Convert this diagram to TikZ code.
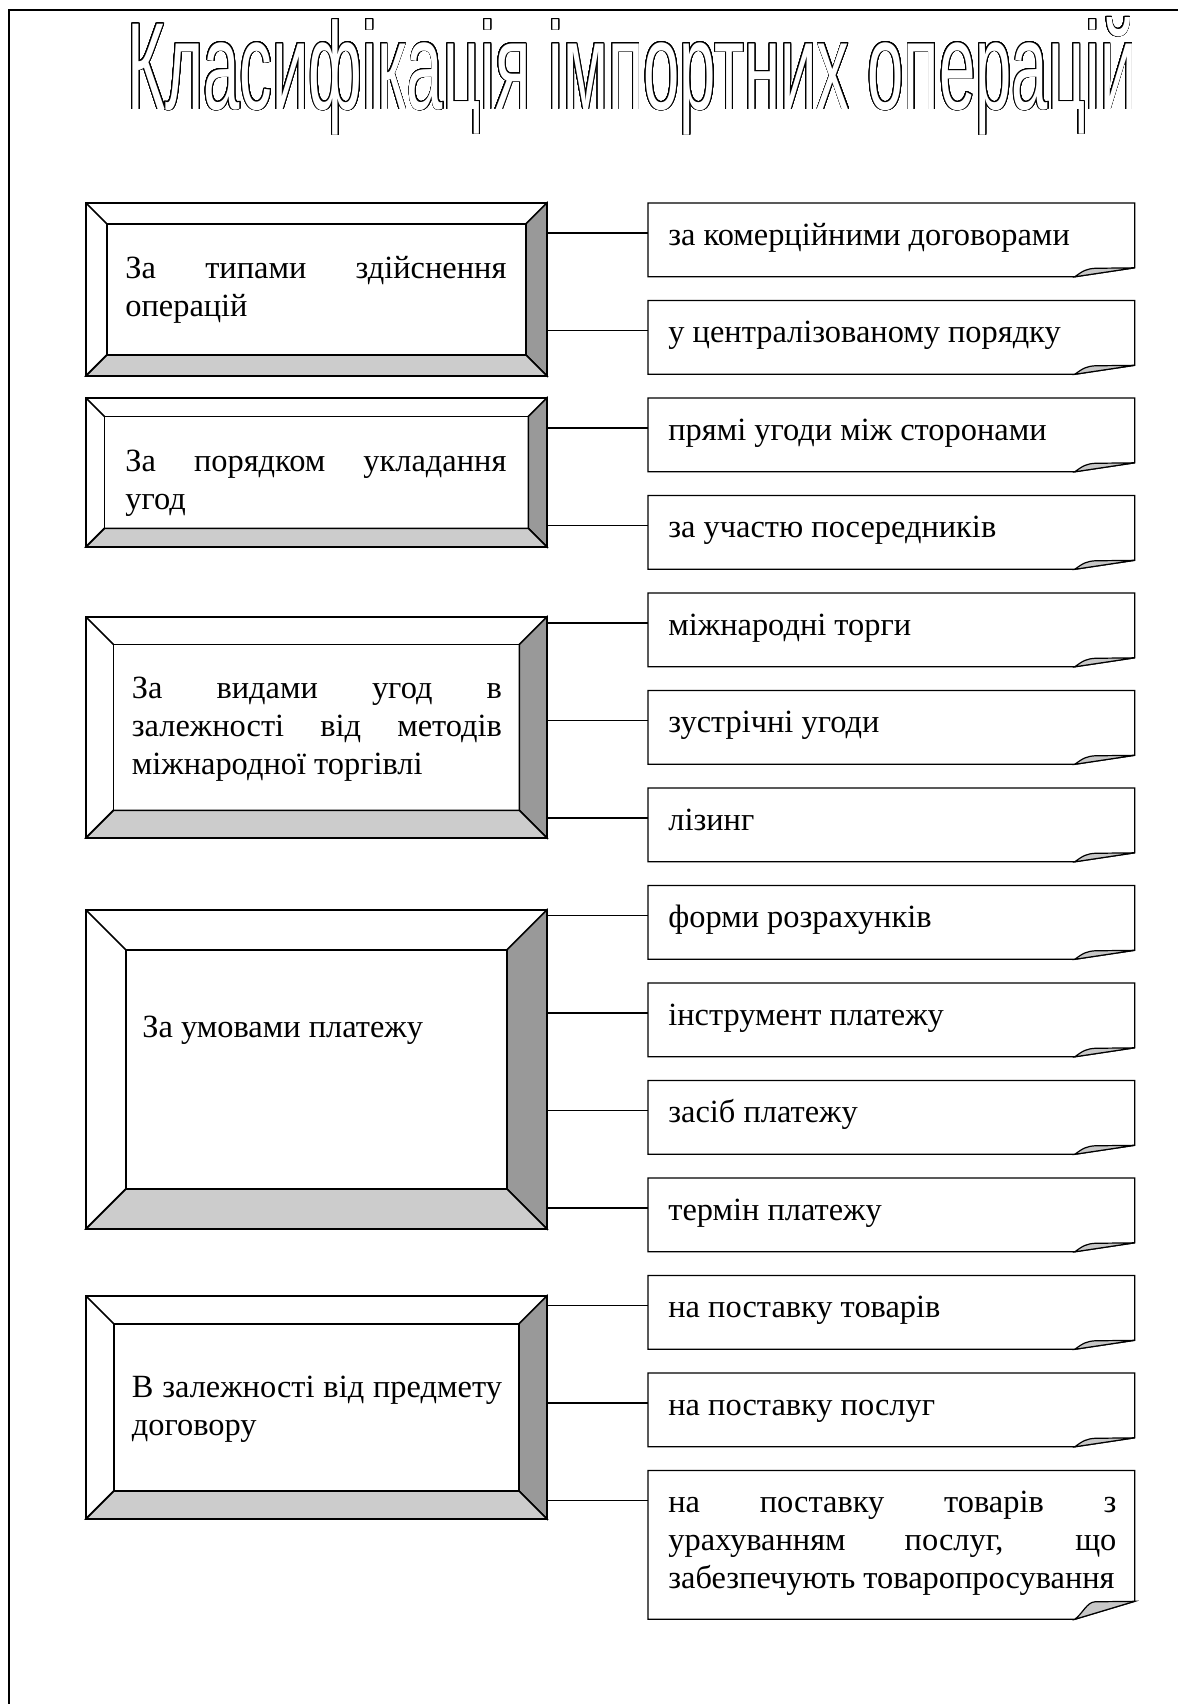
\documentclass[tikz,border=0pt]{standalone}
\usepackage{fontspec}
\setmainfont{Liberation Serif}
\newfontfamily\titlefont{Liberation Sans}
\usepackage{graphicx}
\usepackage{contour}
\contourlength{0.45pt}
\contournumber{32}
\usetikzlibrary{calc}
\tolerance=10000
\hyphenpenalty=10000

\DeclareRobustCommand{\titletext}{\resizebox{504.5pt}{\height}{Класифікація імпортних операцій}}

\tikzset{
  frame/.style={draw=none, minimum width=230pt, anchor=north west, inner sep=0pt},
  leaf/.style={draw=none, minimum width=243pt, minimum height=36.5pt, anchor=north west, inner sep=0pt},
  boxtext/.style={anchor=base west, inner sep=0pt, align=justify, font=\fontsize{16.2}{19}\selectfont},
  leaftext/.style={anchor=base west, inner sep=0pt, font=\fontsize{16.2}{19}\selectfont},
  wire/.style={line width=0.8pt},
  thinwire/.style={line width=0.6pt},
}

% bevelled frame round a node: #1 node, #2 bevel width
\newcommand{\bevelframe}[2]{%
  \coordinate (#1a) at ($(#1.north west)+(#2,#2)$);
  \coordinate (#1b) at ($(#1.north east)+(-#2,#2)$);
  \coordinate (#1c) at ($(#1.south east)+(-#2,-#2)$);
  \coordinate (#1d) at ($(#1.south west)+(#2,-#2)$);
  \filldraw[wire, fill=black!40] (#1.north east) -- (#1.south east) -- (#1c) -- (#1b) -- cycle;
  \filldraw[wire, fill=black!20] (#1.south west) -- (#1.south east) -- (#1c) -- (#1d) -- cycle;
  \draw[wire] (#1.north west) rectangle (#1.south east);
  \draw[wire] (#1a) rectangle (#1c);
  \draw[wire] (#1.north west) -- (#1a) (#1.south west) -- (#1d);
}

% sheet with a folded corner: #1 node, #2 height of the fold
\newcommand{\foldsheet}[2]{%
  \draw[thinwire] (#1.north west) -- (#1.north east) -- ($(#1.south east)+(0,-#2)$)
    -- ($(#1.south east)+(-60,0)$) -- (#1.south west) -- cycle;
  \filldraw[thinwire, fill=black!22] ($(#1.south east)+(-60,0)$)
    .. controls ($(#1.south east)+(-52,-6)$) and ($(#1.south east)+(-48,-#2+1)$) .. ($(#1.south east)+(-40,-#2+0.5)$)
    -- ($(#1.south east)+(0,-#2)$) -- cycle;
}

\begin{document}
\begin{tikzpicture}[x=0.5pt,y=-0.5pt]
        \useasboundingbox (0,0) rectangle (1178,1704);

        % the page frame
        \draw[line width=1pt] (9,1704) -- (9,9.5) -- (1178,9.5);

        % the title
        \node[anchor=base west, inner sep=0pt] (title) at (127,109)
            {\titlefont\fontsize{62}{70}\selectfont\color{white}\contour{black}{\titletext}};

        % the groups on the left
        \node[frame, minimum height=86pt]  (b1) at (86,203)  {};
        \node[frame, minimum height=74pt]  (b2) at (86,398)  {};
        \node[frame, minimum height=110pt] (b3) at (86,617)  {};
        \node[frame, minimum height=159pt] (b4) at (86,910)  {};
        \node[frame, minimum height=111pt] (b5) at (86,1296) {};

        \bevelframe{b1}{21}
        \bevelframe{b2}{18.5}
        \bevelframe{b3}{27.5}
        \bevelframe{b4}{40}
        \bevelframe{b5}{28}

        \node[boxtext, text width=190.5pt] (s1) at (125,278)
            {За типами здійснення\linebreak операцій};
        \node[boxtext, text width=190.5pt] (s2) at (125,471)
            {За порядком укладання\linebreak угод};
        \node[boxtext, text width=185pt] (s3) at (131.5,698)
            {За видами угод в\linebreak залежності від методів\linebreak міжнародної торгівлі};
        \node[leaftext] (s4) at (142,1037) {За умовами платежу};
        \node[boxtext, text width=185pt] (s5) at (131.5,1397)
            {В залежності від предмету\linebreak договору};

        % the sheets on the right
        \foreach \i/\itext in {
            0/за комерційними договорами,
            1/у централізованому порядку,
            2/прямі угоди між сторонами,
            3/за участю посередників,
            4/міжнародні торги,
            5/зустрічні угоди,
            6/лізинг,
            7/форми розрахунків,
            8/інструмент платежу,
            9/засіб платежу,
            10/термін платежу,
            11/на поставку товарів,
            12/на поставку послуг} {
                \pgfmathsetmacro\ytop{203+97.5*\i}
                \node[leaf] (r\i) at (648,\ytop) {};
                \foldsheet{r\i}{9}
                \node[leaftext] (t\i) at ($(r\i.north west)+(20,42)$) {\itext};
                \coordinate (p\i) at ($(r\i.north west)+(0,30)$);
        }

        % the last sheet is taller
        \node[leaf, minimum height=74pt] (r13) at (648,1470.5) {};
        \foldsheet{r13}{18}
        \node[boxtext, text width=224pt] (t13) at ($(r13.north west)+(20,42)$)
            {на поставку товарів з\linebreak урахуванням послуг, що\linebreak забезпечують товаропросування};
        \coordinate (p13) at ($(r13.north west)+(0,30)$);

        % connectors from the groups to their sheets
        \foreach \i/\k in {0/1,1/1,2/2,3/2,4/3,5/3,6/3,7/4,8/4,9/4,10/4,11/5,12/5,13/5}
                \draw[thinwire] (b\k.east |- p\i) -- (p\i);
\end{tikzpicture}
\end{document}
